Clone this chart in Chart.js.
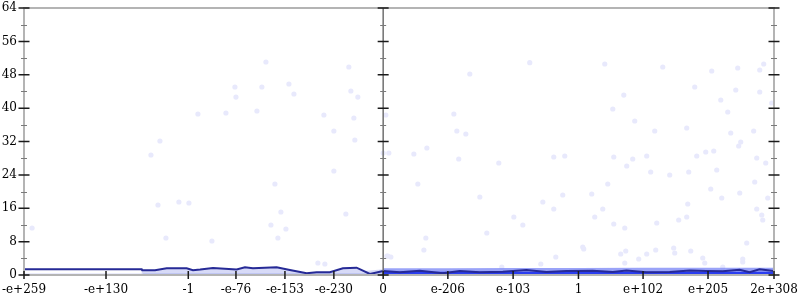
<!DOCTYPE html>
<html>
<head>
<meta charset="utf-8">
<script src="https://cdn.jsdelivr.net/npm/chart.js@4.4.1/dist/chart.umd.min.js"></script>
<style>
  html,body{margin:0;padding:0;background:#fff;}
  #wrap{width:800px;height:300px;position:relative;}
</style>
</head>
<body>
<div id="wrap"><canvas id="c" width="800" height="300"></canvas></div>
<script>
// ---- tick positions & labels ----
const xTickPos    = [-5.514, -4.255, -2.992, -2.26, -1.508, -0.757, 0, 0.993, 1.995, 2.998, 3.99, 4.987, 6];
const xTickLabels = ["-e+259","-e+130","-1","-e-76","-e-153","-e-230","0","e-206","e-103","1","e+102","e+205","2e+308"];
const yMajorTicks = [0, 8, 16, 24, 32, 40, 48, 56, 64];
const yMinorTicks = [4, 12, 20, 28, 36, 44, 52, 60];

// ---- density line ----
const lineX = [-5.514,-3.707,-3.70,-3.503,-3.324,-3.017,-2.92,-2.81,-2.613,-2.25,-2.122,-2.0,-1.636,-1.432,-1.175,-1.022,-0.818,-0.618,-0.408,-0.311,-0.204,0,
               0.256,0.563,0.916,1.177,1.484,1.837,2.2,2.507,2.814,3.218,3.525,3.735,4.042,4.399,4.706,4.962,5.213,5.473,5.626,5.779,5.932,5.994];
const lineY = [1.37,1.37,1.13,1.13,1.6,1.6,1.13,1.3,1.68,1.3,1.85,1.6,1.85,1.2,0.41,0.65,0.65,1.6,1.75,1.03,0.24,0.96,
               0.65,1.03,0.41,0.96,0.65,0.8,1.2,0.72,0.96,1.03,0.72,1.1,0.65,0.72,1.1,0.96,0.88,1.27,0.65,1.37,1.1,0.96];

// ---- spread bands near zero ----
const bandLeftX = [-5.514,-3.71,-3.70,-3.5,-3.32,-3.02,-2.92,-2.61,-2.25,-2.12,-1.64,-1.43,-1.18,-0.82,-0.62,-0.41,-0.31,-0.2,0];
const bandLeftY = [0.35,0.35,1.05,1.05,1.5,1.5,1.05,1.6,1.2,1.75,1.75,1.1,0.4,0.55,1.5,1.65,0.95,1.1,1.4];
const bandRightX = [0, 1, 2, 3, 4, 5, 6];
const bandRightY = [1.6, 1.6, 1.65, 1.7, 1.75, 1.75, 1.75];
const coreLeftX = [-5.514, -3.7, -3.69, 0];
const coreLeftY = [0.25, 0.25, 0.45, 0.45];
const coreRightX = [0, 6];
const coreRightY = [0.75, 0.75];

// ---- faint individual points ----
const dotX = [-3.427,-2.844,-3.565,-3.457,-3.136,-2.982,-5.39,-3.335,0.087,-0.757,-1.662,-1.57,-1.723,-1.493,-1.616,-0.573,-2.629,-1.002,-0.895,0.072,
  0,0.471,1.16,1.775,2.619,2.788,0.532,1.484,2.451,2.757,2.619,2.006,2.144,1.591,0.655,0.625,0.057,0.118,3.064,3.079,2.65,2.42,1.821,
  3.54,3.739,3.831,4.046,4.107,4.399,4.691,4.814,4.952,5.075,5.121,5.735,5.873,3.448,3.202,5.704,5.029,5.474,5.198,5.904,4.676,3.371,5.735,
  3.248,4.66,5.812,5.827,4.537,4.2,3.54,3.709,5.581,4.46,4.476,4.722,3.724,4.184,3.647,4.046,3.923,4.906,4.937,5.52,5.52,3.709,5.213,
  3.402,4.292,5.044,5.443,5.781,5.842,4.783,5.413,5.781,3.694,5.183,3.525,5.29,5.965,3.862,4.169,4.66,5.336,5.688,5.489,5.458,
  -0.527,-0.496,-0.389,-0.91,-0.45,-0.757,-0.435,0.041,1.33,1.085,1.131,1.269,0.671,
  -1.8,-2.276,-1.862,-1.447,-2.26,-1.37,-2.414,-1.938,2.25];
const dotY = [32.12,38.59,28.76,16.78,17.5,17.26,11.27,8.87,29.24,24.93,21.81,15.1,11.98,11.03,8.87,14.62,8.15,2.88,2.64,4.55,
  29.24,29.0,27.8,26.85,28.28,28.52,21.81,18.7,17.5,19.18,15.82,13.9,11.98,10.07,8.87,5.99,4.55,4.31,6.71,6.23,4.31,2.64,1.92,
  28.28,26.13,27.8,28.52,24.69,23.97,24.69,28.52,29.48,29.72,25.17,28.04,26.85,21.81,19.41,22.29,20.61,19.65,18.46,18.46,17.02,15.82,15.82,
  13.9,13.9,14.38,13.18,13.18,12.46,12.22,11.27,7.67,6.47,5.27,5.75,5.75,5.99,5.03,5.03,3.84,4.07,2.88,3.84,3.12,2.88,1.92,
  50.58,49.86,48.9,49.62,49.14,50.58,45.06,44.34,43.86,43.14,41.95,39.79,39.07,41.23,36.91,34.52,35.23,34.04,34.52,31.88,30.92,
  49.86,44.1,42.66,38.35,37.63,34.52,32.36,38.35,48.18,38.59,34.52,33.8,30.44,
  51.06,45.06,45.06,45.78,42.66,43.38,38.83,39.31,50.9];

const pts = (xs, ys) => xs.map((v, i) => ({x: v, y: ys[i]}));

const axesPlugin = {
  id: 'axesPlugin',
  afterDatasetsDraw(chart) {
    const {ctx, chartArea: a, scales: {x, y}} = chart;
    const x0 = x.getPixelForValue(0);
    ctx.save();
    ctx.strokeStyle = '#b4b4b4';
    ctx.lineWidth = 2;
    ctx.beginPath();
    ctx.moveTo(a.left, a.bottom); ctx.lineTo(a.left, a.top);
    ctx.lineTo(a.right, a.top); ctx.lineTo(a.right, a.bottom);
    ctx.moveTo(a.left, a.bottom); ctx.lineTo(a.right, a.bottom);
    ctx.stroke();
    ctx.strokeStyle = '#707070';
    ctx.lineWidth = 1.5;
    ctx.beginPath(); ctx.moveTo(x0, a.top); ctx.lineTo(x0, a.bottom); ctx.stroke();
    const cols = [a.left, x0, a.right];
    ctx.strokeStyle = '#1a1a1a'; ctx.lineWidth = 1.5;
    ctx.beginPath();
    yMajorTicks.forEach(v => {
      const py = y.getPixelForValue(v);
      cols.forEach(cx => { ctx.moveTo(cx - 5.5, py); ctx.lineTo(cx + 5.5, py); });
    });
    ctx.stroke();
    ctx.strokeStyle = '#7a7a7a'; ctx.lineWidth = 1;
    ctx.beginPath();
    yMinorTicks.forEach(v => {
      const py = Math.round(y.getPixelForValue(v)) + 0.5;
      cols.forEach(cx => { ctx.moveTo(cx - 3, py); ctx.lineTo(cx + 3, py); });
    });
    ctx.stroke();
    ctx.strokeStyle = '#1a1a1a'; ctx.lineWidth = 1.5;
    ctx.beginPath();
    xTickPos.forEach(v => {
      const px = x.getPixelForValue(v);
      ctx.moveTo(px, a.bottom - 4); ctx.lineTo(px, a.bottom + 4);
    });
    ctx.stroke();
    ctx.restore();
  }
};

new Chart(document.getElementById('c'), {
  type: 'scatter',
  data: {
    datasets: [
      { label: 'points', data: pts(dotX, dotY), backgroundColor: '#e8e9fc', borderWidth: 0, pointRadius: 2.6, order: 6 },
      { label: 'bandLeft', type: 'line', data: pts(bandLeftX, bandLeftY), showLine: true, fill: 'origin', borderWidth: 0, pointRadius: 0,
        backgroundColor: 'rgba(175,182,240,0.5)', order: 5 },
      { label: 'bandRight', type: 'line', data: pts(bandRightX, bandRightY), showLine: true, fill: 'origin', borderWidth: 0, pointRadius: 0,
        backgroundColor: 'rgba(120,132,245,0.75)', order: 4 },
      { label: 'coreLeft', type: 'line', data: pts(coreLeftX, coreLeftY), showLine: true, fill: 'origin', borderWidth: 0, pointRadius: 0,
        backgroundColor: 'rgba(150,160,235,0.35)', order: 3 },
      { label: 'coreRight', type: 'line', data: pts(coreRightX, coreRightY), showLine: true, fill: 'origin', borderWidth: 0, pointRadius: 0,
        backgroundColor: 'rgba(30,50,240,0.9)', order: 2 },
      { label: 'density', type: 'line', data: pts(lineX, lineY), showLine: true, fill: false, borderColor: '#262a96', borderWidth: 2,
        pointRadius: 0, tension: 0, order: 1 }
    ]
  },
  options: {
    responsive: false,
    animation: false,
    events: [],
    layout: { padding: { left: 0, right: 26, top: 8, bottom: 0 } },
    plugins: { legend: { display: false }, tooltip: { enabled: false } },
    scales: {
      x: {
        type: 'linear', min: -5.514, max: 6,
        grid: { display: false, drawTicks: false }, border: { display: false },
        afterBuildTicks: s => { s.ticks = xTickPos.map(v => ({ value: v })); },
        afterFit: s => { s.height = 25; s.paddingLeft = 0; s.paddingRight = 0; },
        ticks: {
          autoSkip: false, maxRotation: 0, minRotation: 0, padding: 8, color: '#000',
          font: { family: 'DejaVu Serif', size: 12 },
          callback: (v, i) => xTickLabels[i]
        }
      },
      y: {
        type: 'linear', min: 0, max: 64,
        grid: { display: false, drawTicks: false }, border: { display: false },
        afterBuildTicks: s => { s.ticks = yMajorTicks.map(v => ({ value: v })); },
        afterFit: s => { s.width = 24; s.paddingTop = 0; s.paddingBottom = 0; },
        ticks: {
          padding: 7, color: '#000',
          font: { family: 'DejaVu Serif', size: 12 },
          callback: v => String(v)
        }
      }
    }
  },
  plugins: [axesPlugin]
});
</script>
</body>
</html>
